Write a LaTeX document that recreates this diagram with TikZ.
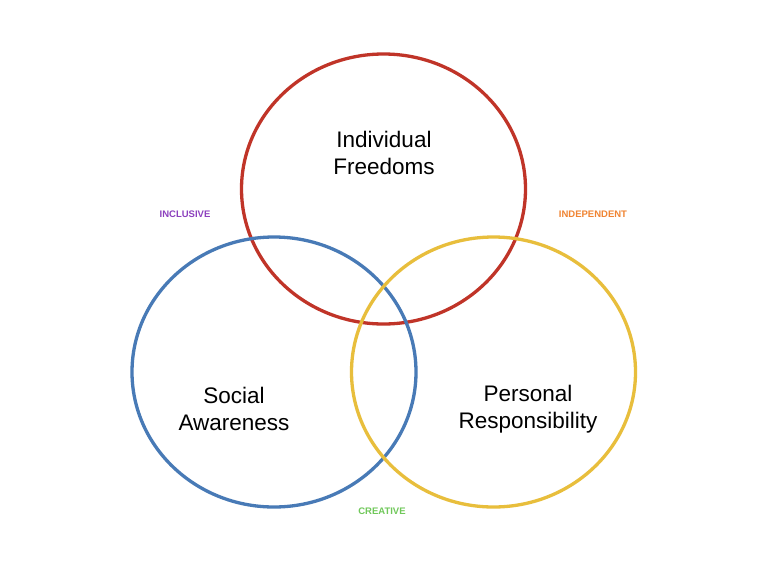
\documentclass[tikz,border=0pt]{standalone}
\usepackage{fontspec}
\setmainfont{Liberation Sans}
\definecolor{cred}{RGB}{192,52,40}
\definecolor{cblue}{RGB}{72,122,182}
\definecolor{cyel}{RGB}{232,190,60}
\definecolor{cpur}{RGB}{140,64,190}
\definecolor{cora}{RGB}{240,132,50}
\definecolor{cgre}{RGB}{112,200,90}
\begin{document}
\begin{tikzpicture}[x=1pt,y=-1pt,
  ring/.style={line width=3.3pt},
  big/.style={font=\fontsize{22.5}{27}\selectfont,align=center},
  tag/.style={font=\bfseries\fontsize{9.5}{11}\selectfont}]
\useasboundingbox[fill=white] (0,0) rectangle (768,576);
\draw[ring,cred] (383.5,189) ellipse [x radius=142, y radius=135];
\draw[ring,cblue] (274,372) ellipse [x radius=142, y radius=135];
\draw[ring,cyel] (493.5,372) ellipse [x radius=142, y radius=135];
\node[big] (f) at (384,153) {Individual\\Freedoms};
\node[big] (s) at (234,409) {Social\\Awareness};
\node[big] (p) at (528,409) {Personal\\Responsibility};
\node[tag,text=cpur] (i) at (185,214) {INCLUSIVE};
\node[tag,text=cora] (d) at (593,214) {INDEPENDENT};
\node[tag,text=cgre] (c) at (382,511) {CREATIVE};
\end{tikzpicture}
\end{document}
